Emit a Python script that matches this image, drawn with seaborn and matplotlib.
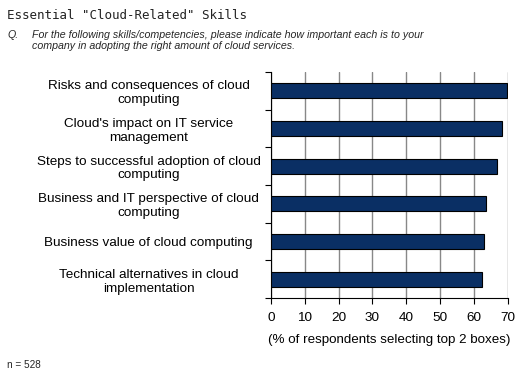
import matplotlib
matplotlib.use("Agg")
import matplotlib.pyplot as plt
import seaborn as sns
import pandas as pd
import numpy as np

categories = [
    "Risks and consequences of cloud\ncomputing",
    "Cloud's impact on IT service\nmanagement",
    "Steps to successful adoption of cloud\ncomputing",
    "Business and IT perspective of cloud\ncomputing",
    "Business value of cloud computing",
    "Technical alternatives in cloud\nimplementation",
]
values = [69.6, 68.4, 66.7, 63.4, 62.9, 62.4]
xticks = [0, 10, 20, 30, 40, 50, 60, 70]

sns.set_theme(style="white")
plt.rcParams['font.family'] = ['Liberation Sans', 'DejaVu Sans']

df = pd.DataFrame({"skill": categories, "pct": values})

fig = plt.figure(figsize=(5.22, 3.76), dpi=100)
ax = fig.add_axes([0.519, 0.207, 0.454, 0.602])

sns.barplot(data=df, x="pct", y="skill", orient="h", color="#0A2F64",
            width=0.4, edgecolor="black", linewidth=0.8, saturation=1, ax=ax, zorder=3)

ax.set_xlim(0, 70)
ax.set_ylim(len(categories) - 0.5, -0.5)
ax.set_xticks(xticks)
ax.set_xticklabels([str(t) for t in xticks], fontsize=9.7, color="black")
ax.xaxis.grid(True, color="#888888", linewidth=1.0, zorder=0)
ax.yaxis.grid(False)
ax.set_xlabel("(% of respondents selecting top 2 boxes)", fontsize=9.6, color="black", labelpad=7)
ax.set_ylabel("")

ax.set_yticks(range(len(categories)))
ax.set_yticklabels(categories, fontsize=9.7, color="black", ha="center", multialignment="center",
                   linespacing=1.2)
ax.tick_params(axis="y", length=0, pad=88)
ax.set_yticks(np.arange(-0.5, len(categories), 1), minor=True)
ax.tick_params(axis="y", which="minor", length=4, color="black", width=0.8, direction="out", left=True)
ax.tick_params(axis="x", length=4, color="black", width=0.8, direction="out", bottom=True, pad=6)

for s in ["top", "right"]:
    ax.spines[s].set_visible(False)
for s in ["left", "bottom"]:
    ax.spines[s].set_color("black")
    ax.spines[s].set_linewidth(0.8)

fig.text(0.013, 0.975, 'Essential "Cloud-Related" Skills',
         fontsize=9, color="#222222", family="DejaVu Sans Mono", va="top")
fig.text(0.015, 0.92, "Q.", fontsize=7.7, style="italic", va="top")
fig.text(0.061, 0.92,
         "For the following skills/competencies, please indicate how important each is to your\ncompany in adopting the right amount of cloud services.",
         fontsize=7.7, style="italic", va="top", linespacing=1.1)
fig.text(0.013, 0.015, "n = 528", fontsize=7.2, va="bottom")

fig.savefig("out.png", dpi=100)
